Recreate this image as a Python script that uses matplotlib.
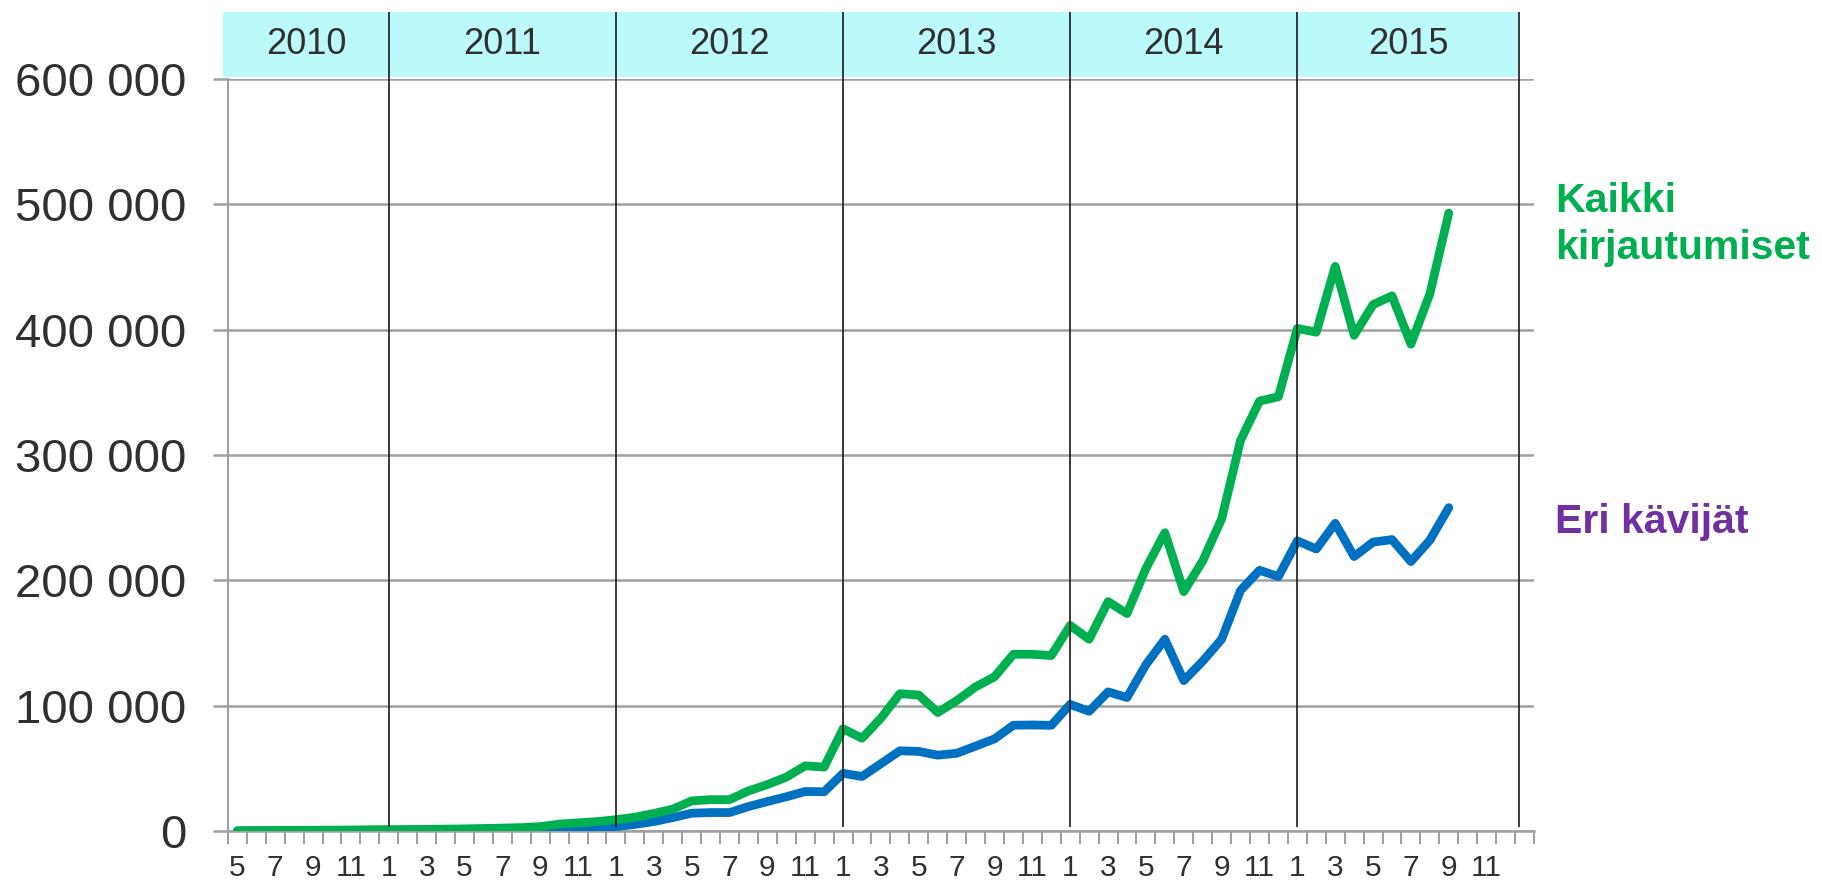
import matplotlib
matplotlib.use('Agg')
import matplotlib.pyplot as plt
from matplotlib.patches import Rectangle
import pandas as pd

plt.rcParams['font.family'] = ['Liberation Sans', 'DejaVu Sans']

# Months on the category axis (last one, 2016-01, is left unlabelled)
months = pd.period_range('2010-05', '2016-01', freq='M')
years = [2010, 2011, 2012, 2013, 2014, 2015]

# Monthly values, 2010-05 .. 2015-09
kaikki = [200, 300, 400, 500, 600, 700, 800, 1000, 1100, 1200, 1300, 1500, 1700, 2000,
          2300, 2700, 3500, 5500, 6500, 7500, 9000, 11000, 14000, 17500, 24000, 25000,
          25000, 32000, 37000, 43000, 52000, 51000,
          81500, 74000, 90000, 109500, 108500, 94500, 104000, 115000, 123000, 141000,
          141000, 140000, 164000, 153000, 183000, 173500, 209500, 238000, 191000, 215500,
          249000, 311700, 343000, 346500, 401000, 398000, 450500, 395500, 420000, 427000,
          388500, 428500, 493000]
eri_kavijat = [100, 150, 200, 250, 300, 350, 400, 450, 500, 550, 600, 700, 800, 900,
               1000, 1200, 1400, 1800, 2500, 2800, 3500, 5300, 7500, 10700, 14200, 14700,
               14700, 19500, 23500, 27300, 31500, 31300,
               46000, 43500, 53700, 64000, 63500, 60500, 62000, 67700, 73500, 84400,
               84600, 84300, 101000, 95500, 111000, 106500, 132700, 153000, 120000, 135500,
               153000, 192000, 208000, 203000, 231500, 225000, 245500, 219000, 230500,
               232500, 215000, 232000, 258000]

green = '#00B050'
blue = '#0070C0'
purple = '#7030A0'
grid_grey = '#A0A0A0'
text_col = '#303030'

fig = plt.figure(figsize=(18.22, 8.83), dpi=100, facecolor='white')
ax = fig.add_axes([0.1251, 0.0589, 0.7168, 0.8516])

x = list(range(len(kaikki)))
ax.plot(x, eri_kavijat, color=blue, lw=6.3, solid_capstyle='round', zorder=3)
ax.plot(x, kaikki, color=green, lw=6.3, solid_capstyle='round', zorder=4)

ax.set_xlim(-0.5, len(months) - 0.5)
ax.set_ylim(0, 600000)

# y axis
yt = list(range(0, 600001, 100000))
ax.set_yticks(yt)
ax.set_yticklabels([f'{v:,}'.replace(',', ' ') for v in yt], fontsize=34, color=text_col)
ax.yaxis.grid(True, color=grid_grey, lw=1.8, zorder=0)
ax.tick_params(axis='y', direction='out', length=11, width=1.8, color=grid_grey, pad=19)

# x axis: labels every second month, ticks between categories
lab_pos = list(range(0, len(months) - 1, 2))
ax.set_xticks(lab_pos)
ax.set_xticklabels([str(months[i].month) for i in lab_pos], fontsize=21.5, color=text_col)
ax.set_xticks([i - 0.5 for i in range(len(months) + 1)], minor=True)
ax.tick_params(axis='x', which='major', length=0, pad=16.5)
ax.tick_params(axis='x', which='minor', direction='out', length=9.5, width=1.5, color=grid_grey)

for s in ['top', 'right']:
    ax.spines[s].set_visible(False)
ax.spines['left'].set_color(grid_grey)
ax.spines['left'].set_linewidth(1.5)
ax.spines['bottom'].set_color(grid_grey)
ax.spines['bottom'].set_linewidth(1.8)

# year band on top and year dividers through January
trans = ax.get_xaxis_transform()
jan_pos = [i for i, m in enumerate(months) if m.month == 1]
line_pos = jan_pos[:-1] + [jan_pos[-1] - 0.3]
band_left = -0.77
ax.add_patch(Rectangle((band_left, 1.003), line_pos[-1] - band_left, 0.0866,
                       transform=trans, facecolor='#BCF9FA', edgecolor='none',
                       clip_on=False, zorder=1))
ax.vlines(line_pos, 0.005, 1.0896, transform=trans, colors='#1a1a1a', lw=1.2,
          clip_on=False, zorder=5)
edges = [band_left] + line_pos
for k, yr in enumerate(years):
    ax.text((edges[k] + edges[k + 1]) / 2, 1.046, str(yr), transform=trans,
            ha='center', va='center', fontsize=26, color=text_col)

# series labels
fig.text(0.8535, 1 - 212 / 883, 'Kaikki', color=green, fontsize=29.5,
         fontweight='bold', ha='left', va='baseline')
fig.text(0.8535, 1 - 259 / 883, 'kirjautumiset', color=green, fontsize=29.5,
         fontweight='bold', ha='left', va='baseline')
fig.text(0.8535, 1 - 533 / 883, 'Eri kävijät', color=purple, fontsize=29.5,
         fontweight='bold', ha='left', va='baseline')

fig.savefig('out.png', dpi=100, facecolor='white')
